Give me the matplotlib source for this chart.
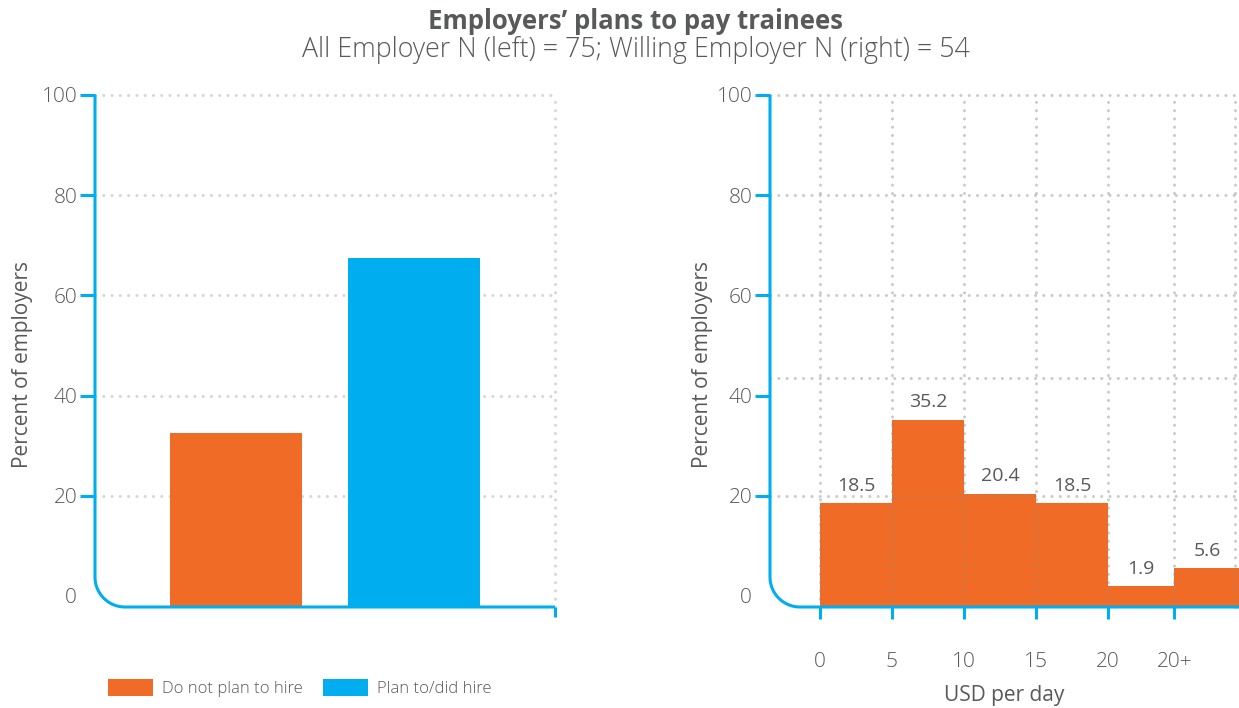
import numpy as np
import matplotlib
matplotlib.use('Agg')
import matplotlib.pyplot as plt
from matplotlib.patches import Patch

plt.rcParams['font.family'] = ['Open Sans', 'DejaVu Sans']
plt.rcParams['font.weight'] = 'light'

ORANGE = '#f06c26'
BLUE = '#00aeef'
TEXT = '#58595b'
GRID = '#d6d6d6'

# left: all employers
hire_labels = ['Do not plan to hire', 'Plan to/did hire']
hire_pct = [32.5, 67.5]
hire_colors = [ORANGE, BLUE]

# right: willing employers, daily pay
usd_labels = ['0', '5', '10', '15', '20', '20+']
usd_edges = [0, 5, 10, 15, 20, 24.6, 29.2]
usd_pct = [18.5, 35.2, 20.4, 18.5, 1.9, 5.6]

y_ticks = [0, 20, 40, 60, 80, 100]
right_grid_y = [20, 43.5, 60, 80, 100]

YMIN, YMAX = -2.2, 100
DOTS = (0, (0.01, 2.7))

fig = plt.figure(figsize=(12.39, 7.08), dpi=100)
axl = fig.add_axes([95 / 1239, 1 - 607 / 708, 460 / 1239, 512 / 708])
axr = fig.add_axes([770 / 1239, 1 - 607 / 708, 469 / 1239, 512 / 708])


def frame(ax, radius=30):
    # blue L-shaped frame with a rounded bottom-left corner
    rx = radius / ax.bbox.width
    ry = radius / ax.bbox.height
    a = np.linspace(np.pi, 1.5 * np.pi, 40)
    xs = np.concatenate([[0, 0], rx + rx * np.cos(a), [1]])
    ys = np.concatenate([[1, ry], ry + ry * np.sin(a), [0]])
    ax.plot(xs, ys, transform=ax.transAxes, clip_on=False, color=BLUE,
            lw=2.2, solid_capstyle='butt', solid_joinstyle='miter', zorder=6)
    for s in ax.spines.values():
        s.set_visible(False)


def dotted(ax, xs, ys, z, alpha=1.0, color=GRID):
    ax.plot(xs, ys, linestyle=DOTS, dash_capstyle='round', lw=2.2,
            color=color, alpha=alpha, zorder=z, clip_on=False)


def yaxis_style(ax):
    ax.set_ylim(YMIN, YMAX)
    ax.set_yticks(y_ticks)
    ax.tick_params(axis='y', direction='out', length=10.8, width=2.2,
                   color=BLUE, labelcolor=TEXT, labelsize=15, pad=2)
    ax.yaxis.get_major_ticks()[0].tick1line.set_visible(False)
    ax.set_ylabel('Percent of employers', fontsize=15, color=TEXT)


# ---- left panel
xl = (-0.79, 1.79)
axl.set_xlim(*xl)
yaxis_style(axl)
axl.yaxis.set_label_coords(-0.135, 0.473)
for y in y_ticks[1:]:
    dotted(axl, [xl[0], xl[1]], [y, y], 0.5)
dotted(axl, [xl[1], xl[1]], [YMIN, YMAX], 0.5)
axl.bar(range(len(hire_pct)), [v - YMIN for v in hire_pct], bottom=YMIN,
        width=0.74, color=hire_colors, zorder=2)
axl.set_xticks([xl[1]])
axl.set_xticklabels([''])
axl.tick_params(axis='x', direction='out', length=7, width=2.2, color=BLUE)
frame(axl)

handles = [Patch(facecolor=c, edgecolor='none') for c in hire_colors]
fig.legend(handles, hire_labels, loc='center left',
           bbox_to_anchor=(108 / 1239, 1 - 688 / 708), ncol=2, frameon=False,
           fontsize=12, labelcolor=TEXT, handlelength=2.7, handleheight=1.2,
           handletextpad=0.55, columnspacing=1.2, borderpad=0, borderaxespad=0)

# ---- right panel
xr = (-3.47, 29.1)
axr.set_xlim(*xr)
yaxis_style(axr)
axr.yaxis.set_label_coords(-0.121, 0.473)
widths = np.diff(usd_edges)
axr.bar(usd_edges[:-1], [v - YMIN for v in usd_pct], bottom=YMIN,
        width=widths, align='edge', color=ORANGE, zorder=2)
for left, w, v in zip(usd_edges[:-1], widths, usd_pct):
    axr.annotate(f'{v:.1f}', (left + w / 2, v), xytext=(0, 6),
                 textcoords='offset points', ha='center', va='bottom',
                 fontsize=14, color=TEXT, fontweight='normal', zorder=7)
for y in right_grid_y:
    dotted(axr, [xr[0], xr[1]], [y, y], 4, alpha=0.45, color='#8a8a8a')
for x in usd_edges[:-1] + [28.8]:
    dotted(axr, [x, x], [YMIN, YMAX], 4, alpha=0.45, color='#8a8a8a')
axr.set_xticks(usd_edges[:-1])
axr.set_xticklabels(usd_labels)
axr.tick_params(axis='x', direction='out', length=8.6, width=2.2, color=BLUE,
                labelcolor=TEXT, labelsize=15, pad=23.5)
axr.set_xlabel('USD per day', fontsize=15, color=TEXT, labelpad=10)
frame(axr)

fig.text(0.513, 0.970, 'Employers\u2019 plans to pay trainees', ha='center',
         va='center', fontsize=18.5, fontweight='bold', color=TEXT)
fig.text(0.513, 0.930, 'All Employer N (left) = 75; Willing Employer N (right) = 54',
         ha='center', va='center', fontsize=19.3, color=TEXT)

fig.savefig('out.png', dpi=100)
